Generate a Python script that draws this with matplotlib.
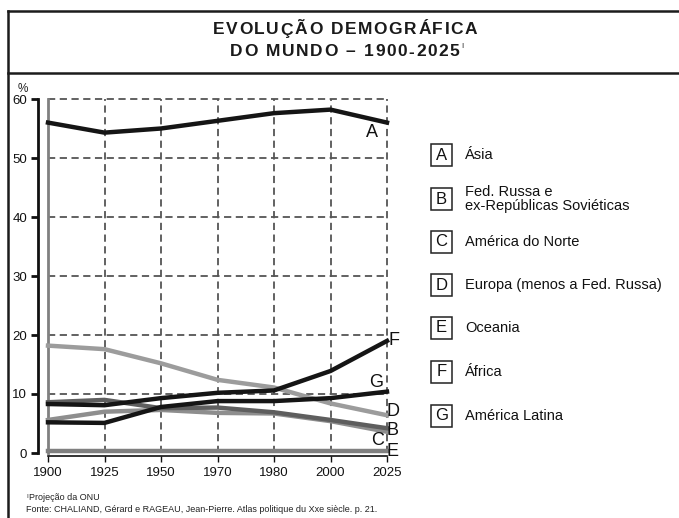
import numpy as np
import matplotlib.pyplot as plt
from matplotlib.lines import Line2D
from matplotlib.patches import Rectangle
from matplotlib.font_manager import FontProperties

plt.rcParams['font.family'] = ['Liberation Sans', 'DejaVu Sans']

# ---- data (percent of world population) ----
years = ['1900', '1925', '1950', '1970', '1980', '2000', '2025']
asia = [56.0, 54.3, 55.0, 56.3, 57.6, 58.2, 56.0]            # A
russia = [8.6, 9.0, 7.6, 7.7, 6.9, 5.6, 4.2]                  # B
north_america = [5.6, 7.0, 7.3, 6.8, 6.7, 5.4, 3.6]           # C
europe = [18.2, 17.6, 15.2, 12.4, 11.1, 8.4, 6.4]             # D
oceania = [0.4, 0.4, 0.4, 0.4, 0.4, 0.4, 0.4]                 # E
africa = [8.3, 8.1, 9.3, 10.2, 10.6, 13.9, 19.0]              # F
latin_america = [5.2, 5.1, 7.8, 8.8, 8.8, 9.3, 10.4]          # G

letters = ['A', 'B', 'C', 'D', 'E', 'F', 'G']
names = ['Ásia', 'Fed. Russa e\nex-Repúblicas Soviéticas', 'América do Norte',
         'Europa (menos a Fed. Russa)', 'Oceania', 'África', 'América Latina']

# ============= PLOTTING ==============
W, H = 679, 518
fig = plt.figure(figsize=(W / 100, H / 100), dpi=100)
renderer = fig.canvas.get_renderer()


def spaced_text(xc, y, s, track, **kw):
    '''Draw s centred on pixel xc with extra letter spacing (px). Returns right edge.'''
    fp = FontProperties(family='Liberation Sans', size=kw.get('fontsize', 12),
                        weight=kw.get('fontweight', 'normal'))
    widths = []
    for ch in s:
        if ch == ' ':
            w = renderer.get_text_width_height_descent('a a', fp, ismath=False)[0] - \
                renderer.get_text_width_height_descent('aa', fp, ismath=False)[0]
        else:
            w = renderer.get_text_width_height_descent(ch, fp, ismath=False)[0]
        widths.append(w)
    total = sum(widths) + track * (len(s) - 1)
    xpos = xc - total / 2
    for ch, w in zip(s, widths):
        if ch != ' ':
            fig.text(xpos / W, 1 - y / H, ch, ha='left', va='center', **kw)
        xpos += w + track
    return xpos - track


ax = fig.add_axes([48 / W, (H - 453) / H, 339 / W, 354 / H])

x = np.arange(len(years))
ax.set_xlim(0, len(years) - 1)
ax.set_ylim(0, 60)

# dashed grid, including the outer edges
for yv in range(10, 61, 10):
    ax.axhline(yv, color='#555555', lw=1.3, ls=(0, (4, 2.5)), clip_on=False, zorder=1)
for xv in x[1:]:
    ax.axvline(xv, color='#555555', lw=1.3, ls=(0, (4, 2.5)), clip_on=False, zorder=1)
ax.axvline(0, color='#808080', lw=2, clip_on=False, zorder=1)

# series: (values, colour, label offset in pixels)
series = [
    (europe, '#9c9c9c', (6, 4)),
    (north_america, '#8e8e8e', (-9, -9)),
    (russia, '#5e5e5e', (6, -2)),
    (oceania, '#808080', (6, -1)),
    (latin_america, '#151515', (-11, 9)),
    (africa, '#151515', (7, 0)),
    (asia, '#151515', (-15, -10)),
]
series_letters = ['D', 'C', 'B', 'E', 'G', 'F', 'A']
for (vals, col, off), let in zip(series, series_letters):
    ax.plot(x, vals, color=col, lw=3.2, clip_on=False, zorder=3,
            solid_joinstyle='miter')
    ax.annotate(let, (x[-1], vals[-1]), xytext=off, textcoords='offset pixels',
                ha='center', va='center', fontsize=13, color='#111111', zorder=5)

# axes styling
for s in ['top', 'right']:
    ax.spines[s].set_visible(False)
ax.spines['left'].set_position(('outward', 7))
ax.spines['left'].set_linewidth(2)
ax.spines['left'].set_color('#111111')
ax.spines['bottom'].set_position(('outward', 2))
ax.spines['bottom'].set_linewidth(1.2)
ax.spines['bottom'].set_color('#111111')

ax.set_yticks(range(0, 61, 10))
ax.set_xticks(x)
ax.set_xticklabels(years)
ax.tick_params(axis='y', direction='out', length=5, width=2, pad=3,
               labelsize=9.5, colors='#111111')
ax.tick_params(axis='x', direction='out', length=4, width=1, pad=4,
               labelsize=9.5, colors='#111111')
ax.text(-0.074, 1.028, '%', transform=ax.transAxes, fontsize=8.5,
        ha='center', va='center', color='#222222')

# ---- frame and title ----
frame_kw = dict(transform=fig.transFigure, color='#1c1c1c', lw=1.8)
fig.add_artist(Line2D([8 / W, 1], [1 - 11 / H, 1 - 11 / H], **frame_kw))
fig.add_artist(Line2D([8 / W, 1], [1 - 73 / H, 1 - 73 / H], **frame_kw))
fig.add_artist(Line2D([8 / W, 8 / W], [0, 1 - 11 / H], **frame_kw))

title_kw = dict(fontsize=12.5, fontweight='bold', color='#1a1a1a')
spaced_text(345, 30, 'EVOLUÇÃO DEMOGRÁFICA', 1.6, **title_kw)
x_end = spaced_text(345, 52, 'DO MUNDO – 1900-2025', 1.6, **title_kw)
fig.text((x_end + 2) / W, 1 - 46 / H, 'I', ha='left', va='center', fontsize=5.5,
         color='#1a1a1a')

# ---- legend ----
leg_y = [155, 199, 242, 285, 328, 372, 416]
for let, name, yy in zip(letters, names, leg_y):
    fig.add_artist(Rectangle((431 / W, 1 - (yy + 11) / H), 21 / W, 22 / H,
                             transform=fig.transFigure, fill=False,
                             ec='#222222', lw=1.1))
    fig.text(441.5 / W, 1 - yy / H, let, ha='center', va='center',
             fontsize=12, color='#111111')
    fig.text(465 / W, 1 - yy / H, name, ha='left', va='center',
             fontsize=10.5, color='#111111', linespacing=1.05)

# ---- footnotes ----
fig.text(26 / W, 1 - 497 / H, 'I', fontsize=4.5, va='center', color='#222222')
fig.text(29 / W, 1 - 497 / H, 'Projeção da ONU', fontsize=6.5, va='center',
         color='#222222')
fig.text(26 / W, 1 - 509 / H,
         'Fonte: CHALIAND, Gérard e RAGEAU, Jean-Pierre. Atlas politique du Xxe siècle. p. 21.',
         fontsize=6.5, va='center', color='#222222')

plt.savefig('out.png', dpi=100)
plt.close()
